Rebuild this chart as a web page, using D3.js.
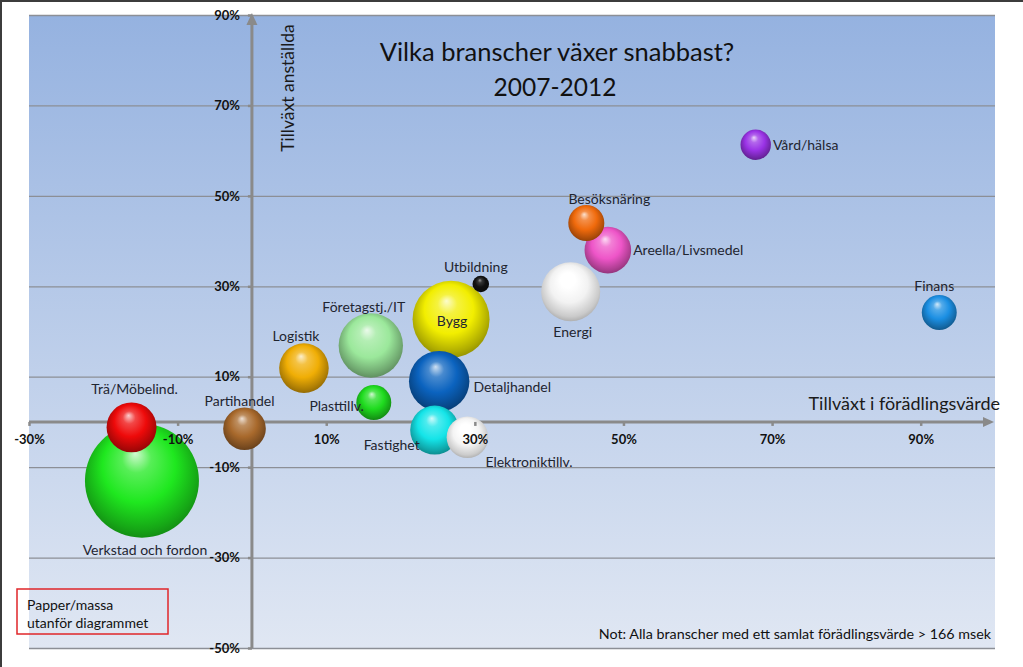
<!DOCTYPE html>
<html><head><meta charset="utf-8">
<script src="https://cdn.jsdelivr.net/npm/d3@7"></script>
<style>
body{margin:0;background:#fff}
svg{display:block}
text{font-family:Lato,"Open Sans",sans-serif}
</style>
</head><body>
<svg id="chart" width="1023" height="667"></svg>
<script>
// ---- DATA ----
const branches = ["Vård/hälsa","Finans","Besöksnäring","Areella/Livsmedel","Energi","Utbildning","Bygg","Företagstj./IT","Logistik","Detaljhandel","Plasttillv.","Fastighet","Elektroniktillv.","Partihandel","Trä/Möbelind.","Verkstad och fordon"];
const valueAddedGrowth = [67.8, 92.5, 45.0, 47.9, 42.9, 30.8, 26.8, 16.0, 7.0, 25.2, 16.4, 24.6, 29.0, -1.0, -16.2, -14.8];
const employmentGrowth = [61.3, 24.2, 44.0, 38.0, 28.8, 30.5, 22.7, 16.9, 11.9, 9.0, 4.3, -1.8, -3.4, -1.5, -1.2, -13.0];
const bubbleSize = [7.1, 9.4, 10.0, 16.7, 26.8, 2.1, 45.6, 31.9, 18.9, 28.1, 9.4, 18.5, 13.3, 14.0, 19.2, 100];
const xTickValues = [-30, -10, 10, 30, 50, 70, 90];
const yTickValues = [90, 70, 50, 30, 10, -10, -30, -50];
const titleLines = ["Vilka branscher växer snabbast?", "2007-2012"];
const xAxisTitle = "Tillväxt i förädlingsvärde";
const yAxisTitle = "Tillväxt anställda";
const noteText = "Not: Alla branscher med ett samlat förädlingsvärde > 166 msek";
const boxLines = ["Papper/massa", "utanför diagrammet"];

// ---- STYLE ----
const palette = ["#9a33e6","#1b8fe3","#f06a0c","#ee55c8","#f2f2f2","#111111","#f2ee00","#9be89b","#f0ae05","#0b63bf","#1fdc1f","#14e4e8","#f4f4f4","#a8692c","#ee0a0a","#1fe81f"];
const labelPlace = {
  "Vård/hälsa": ["start", r => r + 2, r => 0],
  "Finans": ["middle", r => -5, r => -27],
  "Besöksnäring": ["middle", r => 23, r => -24],
  "Areella/Livsmedel": ["start", r => r + 2, r => -1],
  "Energi": ["middle", r => 2, r => 40],
  "Utbildning": ["middle", r => -5, r => -18],
  "Bygg": ["middle", r => 1, r => 1],
  "Företagstj./IT": ["middle", r => -7, r => -39],
  "Logistik": ["middle", r => -8, r => -33],
  "Detaljhandel": ["start", r => r + 4, r => 5],
  "Plasttillv.": ["end", r => -10, r => 3],
  "Fastighet": ["end", r => -15, r => 14],
  "Elektroniktillv.": ["start", r => 18, r => 24],
  "Partihandel": ["middle", r => -5, r => -28],
  "Trä/Möbelind.": ["middle", r => 3, r => -39],
  "Verkstad och fordon": ["middle", r => 3, r => 69]
};

const svg = d3.select("#chart");
const W = 1023, H = 667;
const plot = {left: 29, right: 995, top: 15, bottom: 648};

const x = d3.scaleLinear().domain([-30, 100]).range([plot.left, plot.right]);
const y = d3.scaleLinear().domain([-50, 90]).range([plot.bottom, plot.top]);
const rScale = d3.scaleSqrt().domain([0, d3.max(bubbleSize)]).range([0, 57]);

const defs = svg.append("defs");
const bg = defs.append("linearGradient").attr("id","bg").attr("x1",0).attr("y1",0).attr("x2",0).attr("y2",1);
bg.append("stop").attr("offset","0%").attr("stop-color","#95b2e0");
bg.append("stop").attr("offset","100%").attr("stop-color","#e0e7f3");

svg.append("rect").attr("x",0).attr("y",0).attr("width",W).attr("height",H).attr("fill","#fff");
svg.append("path").attr("d",`M1,${H} V1 H${W}`).attr("fill","none").attr("stroke","#3c3c3c").attr("stroke-width",2);

svg.append("rect").attr("x",plot.left).attr("y",plot.top)
  .attr("width",plot.right-plot.left).attr("height",plot.bottom-plot.top)
  .attr("fill","url(#bg)");

const grid = svg.append("g").attr("transform",`translate(${plot.left},0)`)
  .call(d3.axisLeft(y).tickValues(yTickValues).tickSize(-(plot.right-plot.left)).tickFormat(""));
grid.select(".domain").remove();
grid.selectAll(".tick line").attr("stroke","#8c8f96").attr("stroke-width",1.3);

svg.append("text").attr("x",557).attr("y",61).attr("text-anchor","middle")
  .attr("font-size",25.5).attr("fill","#111").text(titleLines[0]);
svg.append("text").attr("x",555).attr("y",96).attr("text-anchor","middle")
  .attr("font-size",24.5).attr("fill","#111").text(titleLines[1]);

svg.append("text").attr("transform",`translate(294,88) rotate(-90)`).attr("text-anchor","middle")
  .attr("font-size",17.5).attr("fill","#1a1a1a").text(yAxisTitle);

const axisColor = "#8a8a8a";
svg.append("line").attr("x1",x(0)).attr("x2",x(0)).attr("y1",plot.bottom).attr("y2",plot.top+6)
  .attr("stroke",axisColor).attr("stroke-width",3);
svg.append("path").attr("d",`M${x(0)},${plot.top-2} l-5.5,12 h11 z`).attr("fill",axisColor);
svg.append("line").attr("x1",plot.left).attr("x2",plot.right-8).attr("y1",y(0)).attr("y2",y(0))
  .attr("stroke",axisColor).attr("stroke-width",3);
svg.append("path").attr("d",`M${plot.right-1},${y(0)} l-11,-5 v10 z`).attr("fill",axisColor);

svg.append("text").attr("x",1000).attr("y",410).attr("text-anchor","end")
  .attr("font-size",18).attr("fill","#1a1a1a").text(xAxisTitle);

const data = branches.map((n,i) => ({name:n, vx:valueAddedGrowth[i], vy:employmentGrowth[i], s:bubbleSize[i], color:palette[i], i}));

data.forEach(d => {
  const c = d3.color(d.color);
  const g = defs.append("radialGradient").attr("id","sph"+d.i)
    .attr("cx","50%").attr("cy","46%").attr("r","58%").attr("fx","44%").attr("fy","26%");
  const isDark = d.color === "#111111";
  const isWhite = c.r > 230 && c.g > 230 && c.b > 230;
  const light = isDark ? "#9a9a9a" : d3.interpolateRgb(d.color, "#ffffff")(0.8);
  g.append("stop").attr("offset","0%").attr("stop-color",isWhite ? "#ffffff" : light);
  g.append("stop").attr("offset","22%").attr("stop-color",isWhite ? "#ffffff" : d3.interpolateRgb(d.color,"#ffffff")(isDark?0.15:0.25));
  g.append("stop").attr("offset","55%").attr("stop-color",d.color);
  g.append("stop").attr("offset","85%").attr("stop-color",c.darker(isWhite?0.5:0.9).formatHex());
  g.append("stop").attr("offset","100%").attr("stop-color",c.darker(isWhite?1.1:1.6).formatHex());
});

const sorted = data.slice().sort((a,b) => b.s - a.s);
svg.append("g").selectAll("circle").data(sorted).join("circle")
  .attr("cx", d => x(d.vx)).attr("cy", d => y(d.vy)).attr("r", d => rScale(d.s))
  .attr("fill", d => `url(#sph${d.i})`);

// axes ticks + labels (drawn above bubbles, as in the original)
const xAxisG = svg.append("g").attr("transform",`translate(0,${y(0)})`)
  .call(d3.axisBottom(x).tickValues(xTickValues).tickSize(4).tickPadding(9).tickFormat(d => d + "%"));
xAxisG.select(".domain").remove();
xAxisG.selectAll(".tick line").attr("stroke","#8a8a8a").attr("stroke-width",2.5);
xAxisG.selectAll(".tick text").attr("font-size",13).attr("font-weight","bold").attr("fill","#111")
  .attr("font-family","Lato,'Open Sans',sans-serif");

const yAxisG = svg.append("g").attr("transform",`translate(${x(0)},0)`)
  .call(d3.axisLeft(y).tickValues(yTickValues).tickSize(4).tickPadding(8).tickFormat(d => d + "%"));
yAxisG.select(".domain").remove();
yAxisG.selectAll(".tick line").attr("stroke","#8a8a8a").attr("stroke-width",2.5);
yAxisG.selectAll(".tick text").attr("font-size",13).attr("font-weight","bold").attr("fill","#111")
  .attr("font-family","Lato,'Open Sans',sans-serif");

svg.append("g").selectAll("text").data(data).join("text")
  .each(function(d){
    const r = rScale(d.s);
    const p = labelPlace[d.name];
    d3.select(this).attr("x", x(d.vx) + p[1](r)).attr("y", y(d.vy) + p[2](r))
      .attr("text-anchor", p[0]);
  })
  .attr("dominant-baseline","central")
  .attr("font-size",14).attr("fill","#1f2530").text(d => d.name);

svg.append("text").attr("x",991).attr("y",633).attr("text-anchor","end").attr("dominant-baseline","central")
  .attr("font-size",14.3).attr("fill","#111").text(noteText);

svg.append("rect").attr("x",17).attr("y",589).attr("width",151).attr("height",45)
  .attr("fill","none").attr("stroke","#e0262a").attr("stroke-width",1.5);
boxLines.forEach((t,k) => {
  svg.append("text").attr("x",27).attr("y",604 + k*18.5).attr("dominant-baseline","central")
    .attr("font-size",14).attr("fill","#111").text(t);
});
</script>
</body></html>
